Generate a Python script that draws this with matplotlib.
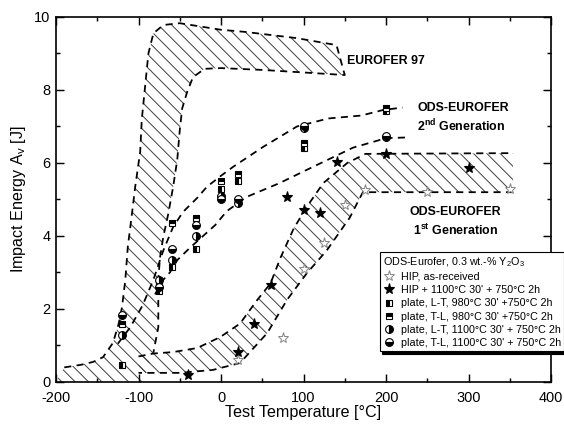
import numpy as np
import matplotlib
matplotlib.use("Agg")
import matplotlib.pyplot as plt

plt.rcParams['font.family'] = ['Liberation Sans', 'DejaVu Sans']
plt.rcParams['hatch.linewidth'] = 0.9
plt.rcParams['axes.unicode_minus'] = False
plt.rcParams['mathtext.fontset'] = 'custom'
plt.rcParams['mathtext.rm'] = 'Liberation Sans'
plt.rcParams['mathtext.bf'] = 'Liberation Sans:bold'

# ---- scatter data (Test temperature [°C], impact energy [J]) ----
hip_ar_T = [20, 75, 100, 125, 150, 175, 250, 350]
hip_ar_E = [0.6, 1.2, 3.1, 3.8, 4.85, 5.25, 5.2, 5.28]

hip_ht_T = [-40, 20, 40, 60, 80, 100, 120, 140, 200, 300]
hip_ht_E = [0.2, 0.83, 1.6, 2.66, 5.07, 4.7, 4.62, 6.03, 6.25, 5.86]

lt980_T = [-120, -75, -60, -30, 0, 20, 100, 200]
lt980_E = [0.47, 2.5, 3.15, 3.65, 5.3, 5.5, 6.4, 7.42]

tl980_T = [-120, -75, -60, -30, 0, 20, 100, 200]
tl980_E = [1.6, 2.7, 4.35, 4.5, 5.5, 5.7, 6.55, 7.5]

lt1100_T = [-120, -75, -60, -30, 0, 20, 100, 200]
lt1100_E = [1.3, 2.8, 3.35, 4.0, 5.1, 4.9, 6.95, 6.7]

tl1100_T = [-120, -75, -60, -30, 0, 20, 100, 200]
tl1100_E = [1.84, 2.6, 3.65, 4.3, 5.0, 5.0, 7.0, 6.75]

# ---- EUROFER 97 scatter band ----
eu_outer_T = [-190, -170, -155, -143, -131, -124, -120, -116, -113, -108, -104,
              -98, -96, -92, -88, -82, -70, -50, 0, 30, 92, 140, 150]
eu_outer_E = [0.40, 0.47, 0.55, 0.68, 1.07, 1.6, 2.05, 2.8, 3.7, 4.6, 5.35,
              6.3, 7.2, 8.1, 9.0, 9.55, 9.78, 9.83, 9.65, 9.59, 9.42, 9.23, 8.41]
eu_inner_T = [150, 100, 50, 0, -20, -34, -41, -47, -50, -53, -58, -64, -70,
              -74, -76, -76, -82, -95]
eu_inner_E = [8.41, 8.48, 8.55, 8.6, 8.58, 8.35, 7.95, 7.5, 6.9, 6.1, 5.35, 4.6,
              3.97, 3.4, 2.8, 1.5, 0.8, 0.0]

# ---- ODS-EUROFER 1st generation band ----
o1_upper_T = [-100, -82, -58, -29, -1, 23, 44, 60, 72, 88, 104, 124, 153, 175, 354]
o1_upper_E = [0.7, 0.78, 0.82, 0.93, 1.23, 1.6, 2.25, 2.7, 3.4, 4.2, 4.8, 5.45,
              6.0, 6.25, 6.27]
o1_lower_T = [354, 200, 172, 165, 156, 128, 104, 80, 56, 23, -10, -50, -100]
o1_lower_E = [5.2, 5.2, 5.2, 4.9, 4.5, 3.6, 2.98, 2.25, 1.34, 0.52, 0.33, 0.25, 0.25]

# ---- ODS-EUROFER 2nd generation bounds ----
o2_upper_T = [-125, -110, -95, -82, -70, -58, -46, -29, -17, 0, 15, 51, 92, 130,
              170, 196, 220]
o2_upper_E = [1.05, 1.5, 2.1, 2.8, 3.6, 4.25, 4.66, 5.04, 5.35, 5.65, 5.9, 6.44,
              7.0, 7.22, 7.3, 7.45, 7.52]
o2_lower_T = [-80, -70, -62, -53, -38, -7, 7, 31, 71, 112, 160, 200, 225]
o2_lower_E = [2.4, 2.8, 3.0, 3.34, 3.67, 4.3, 4.68, 5.07, 5.45, 5.9, 6.42, 6.68, 6.7]

fig = plt.figure(figsize=(7.05, 5.3375), dpi=80)
ax = fig.add_axes([0.0993, 0.1054, 0.8777, 0.8548])

dash = dict(color='black', lw=1.6, ls=(0, (4, 3)))
hatch_kw = dict(facecolor='none', edgecolor='#444444', hatch='\\\\', lw=0)

# EUROFER 97 band (hatch reaches down to the axis at the lower left)
ax.fill(eu_outer_T + eu_inner_T + [-200], eu_outer_E + eu_inner_E + [0.0], **hatch_kw)
ax.plot(eu_outer_T + eu_inner_T[:-1], eu_outer_E + eu_inner_E[:-1], **dash)

# ODS 1st band
ax.fill(o1_upper_T + o1_lower_T, o1_upper_E + o1_lower_E, **hatch_kw)
ax.plot(o1_upper_T, o1_upper_E, **dash)
ax.plot(o1_lower_T, o1_lower_E, **dash)

# ODS 2nd bounds
ax.plot(o2_upper_T, o2_upper_E, **dash)
ax.plot(o2_lower_T, o2_lower_E, **dash)

ax.plot(hip_ar_T, hip_ar_E, ls='none', marker='*', ms=10, mfc='white', mec='#888888',
        mew=0.9, label='HIP, as-received')
ax.plot(hip_ht_T, hip_ht_E, ls='none', marker='*', ms=10, mfc='black', mec='black',
        label="HIP + 1100°C 30' + 750°C 2h")
sq = dict(ls='none', marker='s', ms=6, mfc='black', mec='black', mfcalt='white', mew=1)
ci = dict(ls='none', marker='o', ms=7, mfc='black', mec='black', mfcalt='white', mew=1)
ax.plot(lt980_T, lt980_E, fillstyle='left', label="plate, L-T, 980°C 30' +750°C 2h", **sq)
ax.plot(tl980_T, tl980_E, fillstyle='top', label="plate, T-L, 980°C 30' +750°C 2h", **sq)
ax.plot(lt1100_T, lt1100_E, fillstyle='right', label="plate, L-T, 1100°C 30' + 750°C 2h", **ci)
ax.plot(tl1100_T, tl1100_E, fillstyle='bottom', label="plate, T-L, 1100°C 30' + 750°C 2h", **ci)

ax.set_xlim(-200, 400)
ax.set_ylim(0, 10)
ax.set_xticks(np.arange(-200, 401, 100))
ax.set_xticks(np.arange(-150, 400, 100), minor=True)
ax.set_yticks(np.arange(0, 11, 2))
ax.set_yticks(np.arange(1, 10, 2), minor=True)
ax.tick_params(which='both', direction='in', top=True, right=True, width=1.3,
               labelsize=13, pad=5)
ax.tick_params(axis='x', which='both', pad=8)
ax.tick_params(which='major', length=7)
ax.tick_params(which='minor', length=4)
for s in ax.spines.values():
    s.set_linewidth(1.5)

ax.set_xlabel('Test Temperature [°C]', fontsize=14.5, labelpad=0)
ax.set_ylabel('Impact Energy A$_\\mathregular{v}$ [J]', fontsize=14.5, labelpad=6)

tk = dict(fontsize=11.2, fontweight='bold')
ax.text(153, 8.8, 'EUROFER 97', va='center', ha='left', **tk)
ax.text(238, 7.5, 'ODS-EUROFER', va='center', ha='left', **tk)
ax.text(238, 7.0, '2$^{\\mathbf{nd}}$ Generation', va='center', ha='left', **tk)
ax.text(284, 4.65, 'ODS-EUROFER', va='center', ha='center', **tk)
ax.text(284, 4.16, '1$^{\\mathbf{st}}$ Generation', va='center', ha='center', **tk)

leg = fig.legend(loc='upper left', bbox_to_anchor=(0.674, 0.41), fontsize=9.7,
                 title='ODS-Eurofer, 0.3 wt.-% Y$_2$O$_3$', title_fontsize=9.7,
                 alignment='left', frameon=True, fancybox=False, edgecolor='black',
                 framealpha=1, shadow={'color': 'black', 'alpha': 1},
                 borderpad=0.3, labelspacing=0.3, handlelength=1.0,
                 handletextpad=0.6, borderaxespad=0)
leg.get_frame().set_linewidth(1.0)

fig.savefig('out.png', dpi=80)
